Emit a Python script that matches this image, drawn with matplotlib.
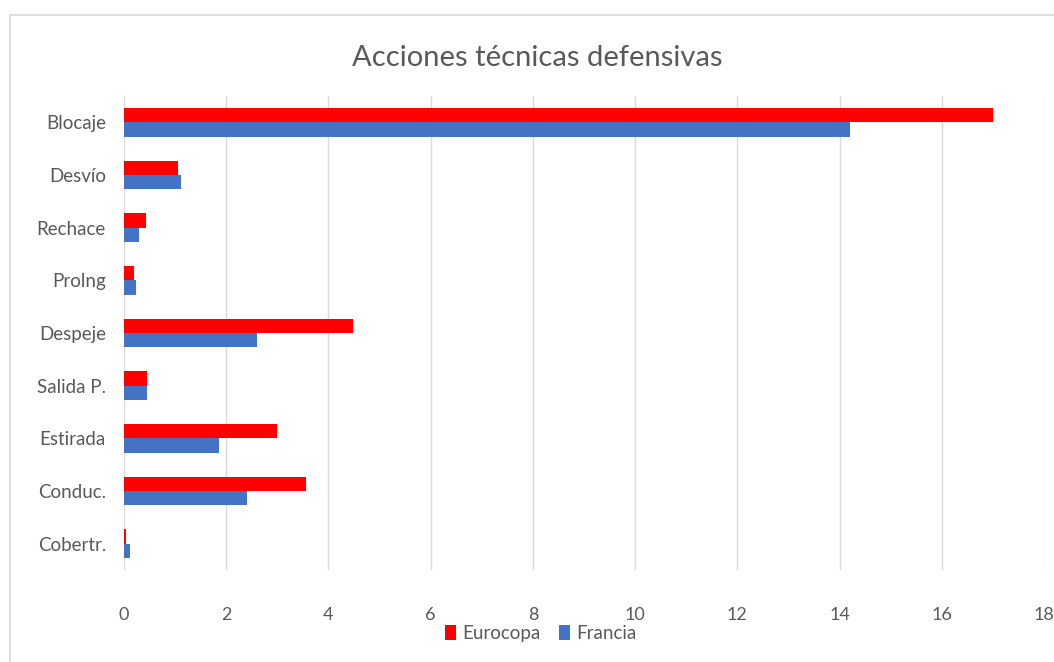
import numpy as np
import matplotlib
matplotlib.use("Agg")
from matplotlib import pyplot
from matplotlib.patches import Rectangle

categories = ["Blocaje", "Desvío", "Rechace", "Prolng", "Despeje",
              "Salida P.", "Estirada", "Conduc.", "Cobertr."]
eurocopa = [17.0, 1.06, 0.43, 0.2, 4.48, 0.45, 3.0, 3.56, 0.04]
francia = [14.2, 1.12, 0.3, 0.23, 2.6, 0.45, 1.86, 2.41, 0.11]
x_ticks = list(range(0, 20, 2))

pyplot.rcParams['font.family'] = ['Lato', 'DejaVu Sans']
text_color = "#595959"
grid_color = "#d9d9d9"

fig = pyplot.figure(figsize=(10.54, 6.62), dpi=100)
ax = fig.add_axes([0.1176, 0.139, 0.8729, 0.716])

y = np.arange(len(categories))
h = 0.27
ax.barh(y - h / 2, eurocopa, height=h, color="#ff0000", label="Eurocopa", zorder=3)
ax.barh(y + h / 2, francia, height=h, color="#4472c4", label="Francia", zorder=3)

ax.set_ylim(len(categories) - 0.5, -0.5)
ax.set_xlim(0, 18)
ax.set_xticks(x_ticks)
ax.set_yticks(y)
ax.set_yticklabels(categories)
ax.xaxis.grid(True, color=grid_color, linewidth=1, zorder=0)
for s in ax.spines.values():
    s.set_visible(False)
ax.tick_params(axis='both', length=0, labelsize=13, colors=text_color)
ax.tick_params(axis='y', labelsize=13.5, pad=13)
ax.tick_params(axis='x', pad=27)

fig.text(0.51, 0.912, "Acciones técnicas defensivas", ha="center", va="center",
         fontsize=21, color=text_color)

fig.legend(loc="center", bbox_to_anchor=(0.513, 0.043), ncol=2, frameon=False,
           fontsize=13.5, handlelength=0.6, handleheight=0.9, handletextpad=0.3,
           columnspacing=1.0, labelcolor=text_color)

# chart border (right and bottom edges fall outside the image)
fig.patches.append(Rectangle((10 / 1054, -0.05), 1.1, 1.05 - 15 / 662,
                             transform=fig.transFigure, fill=False,
                             edgecolor=grid_color, linewidth=1.2))

pyplot.savefig("out.png", dpi=100)
